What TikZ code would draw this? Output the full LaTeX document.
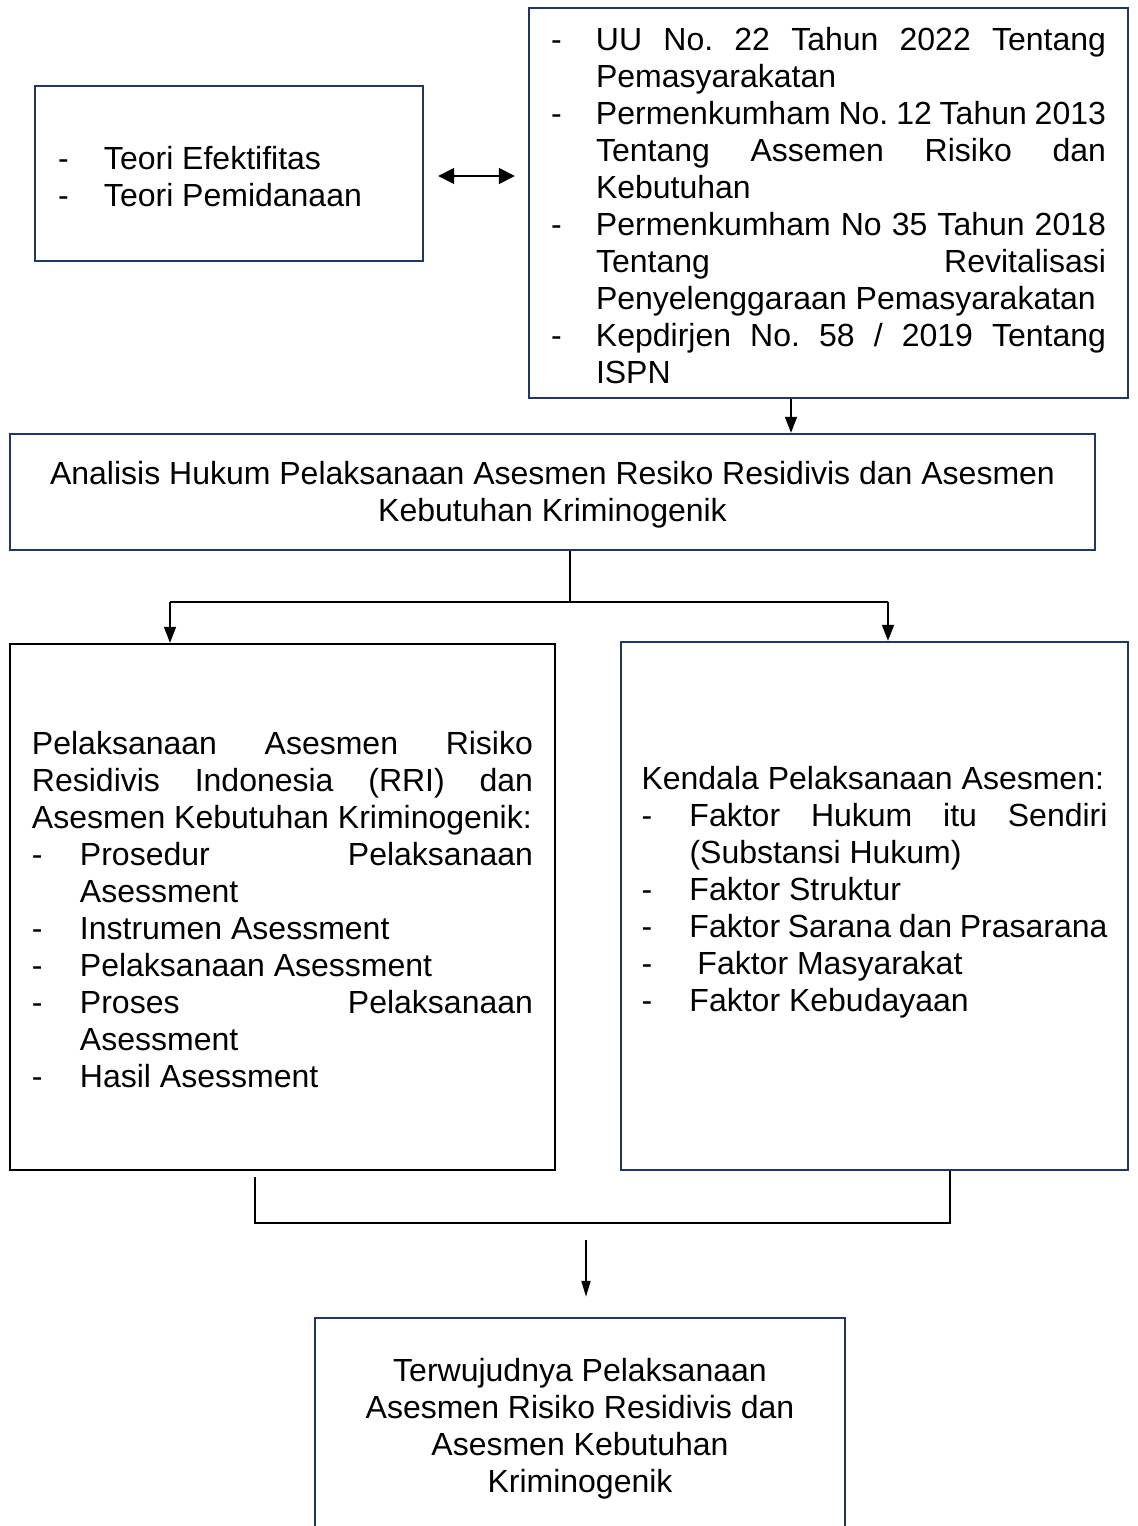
\documentclass[tikz,border=0pt]{standalone}
\usepackage{fontspec}
\setmainfont{Liberation Sans}
\usepackage{tikz}
\usetikzlibrary{arrows.meta,calc}
\definecolor{navyline}{HTML}{1F3763}
\tolerance=10000
\hbadness=10000
\hfuzz=3pt
\frenchspacing
\newcommand{\dashitem}[2]{\par\noindent\hangindent=#1\hangafter=1\makebox[#1][l]{-}\ignorespaces#2}

\begin{document}
\begin{tikzpicture}[x=0.5pt, y=-0.5pt,
  kotak/.style={draw=navyline, line width=1.2pt, inner sep=0pt, font=\fontsize{16}{18.5}\selectfont},
  garis/.style={line width=0.9pt},
  panah/.style={garis, -{Triangle[length=8pt,width=6pt]}},
  panahkecil/.style={garis, -{Triangle[length=8pt,width=4.5pt]}},
  duapanah/.style={garis, {Triangle[length=8pt,width=8pt]}-{Triangle[length=8pt,width=8pt]}}]
\useasboundingbox (0,0) rectangle (1137,1526);
%%%%% Boxes %%%%%
\node[kotak, minimum width=194pt, minimum height=87.5pt] (teori) at (229,173.5) {\parbox{171pt}{\vspace*{3pt}%
  \dashitem{23pt}{Teori Efektifitas}
  \dashitem{23pt}{Teori Pemidanaan}}};
\node[kotak, minimum width=299.5pt, minimum height=195pt] (hukum) at (828.5,203) {\parbox{277.5pt}{\vspace*{3pt}%
  \dashitem{22.5pt}{UU No. 22 Tahun 2022 Tentang\linebreak Pemasyarakatan}
  \dashitem{22.5pt}{Permenkumham No. 12 Tahun 2013\linebreak Tentang Assemen Risiko dan\linebreak Kebutuhan}
  \dashitem{22.5pt}{Permenkumham No 35 Tahun 2018\linebreak Tentang Revitalisasi\linebreak Penyelenggaraan Pemasyarakatan}
  \dashitem{22.5pt}{Kepdirjen No. 58 / 2019 Tentang\linebreak ISPN}}};
\node[kotak, minimum width=542.5pt, minimum height=58pt] (analisis) at (552.5,492) {\parbox{530pt}{\vspace*{3pt}\centering
  Analisis Hukum Pelaksanaan Asesmen Resiko Residivis dan Asesmen\\ Kebutuhan Kriminogenik}};
\node[kotak, draw=black, minimum width=272.5pt, minimum height=263pt] (pelaksanaan) at (282.5,907) {\parbox{250.5pt}{\vspace*{3pt}%
  Pelaksanaan Asesmen Risiko\linebreak Residivis Indonesia (RRI) dan\linebreak Asesmen Kebutuhan Kriminogenik:
  \dashitem{24pt}{Prosedur Pelaksanaan\linebreak Asessment}
  \dashitem{24pt}{Instrumen Asessment}
  \dashitem{24pt}{Pelaksanaan Asessment}
  \dashitem{24pt}{Proses Pelaksanaan\linebreak Asessment}
  \dashitem{24pt}{Hasil Asessment}}};
\node[kotak, minimum width=253.5pt, minimum height=264pt] (kendala) at (874.5,906) {\parbox{233pt}{%
  Kendala Pelaksanaan Asesmen:
  \dashitem{24pt}{Faktor Hukum itu Sendiri\linebreak (Substansi Hukum)}
  \dashitem{24pt}{Faktor Struktur}
  \dashitem{24pt}{Faktor Sarana dan Prasarana}
  \dashitem{24pt}{\hspace{4pt}Faktor Masyarakat}
  \dashitem{24pt}{Faktor Kebudayaan}\par\vspace{14pt}}};
\node[kotak, minimum width=265pt, minimum height=108pt] (hasil) at (580,1426) {\parbox{240pt}{\vspace*{3pt}\centering
  Terwujudnya Pelaksanaan\\ Asesmen Risiko Residivis dan\\ Asesmen Kebutuhan\\ Kriminogenik}};
%%%%% Connectors %%%%%
\draw[duapanah] ([xshift=7pt,yshift=-1.25pt]teori.east) -- ([xshift=-6.5pt,yshift=-1.25pt]teori.east -| hukum.west);
\coordinate (turun) at ([xshift=-18.75pt]hukum.south);
\draw[panah] (turun) -- (turun |- analisis.north);
\coordinate (cabang) at ([xshift=8.75pt]analisis.south);
\coordinate (hl) at (170,602);
\coordinate (hr) at (888,602);
\draw[garis] (cabang) -- (cabang |- hl);
\draw[garis] (hl) -- (hr);
\draw[panah] (hl) -- (hl |- pelaksanaan.north);
\draw[panah] (hr) -- (hr |- kendala.north);
\coordinate (kiri) at (255,1223);
\coordinate (kanan) at (950,1223);
\draw[garis] ($(pelaksanaan.south -| kiri)+(0,6)$) -- (kiri) -- (kanan) -- (kanan |- kendala.south);
\coordinate (akhir) at (586,1240);
\draw[panahkecil] (akhir) -- ($(akhir |- hasil.north)+(0,-20)$);
\end{tikzpicture}
\end{document}
